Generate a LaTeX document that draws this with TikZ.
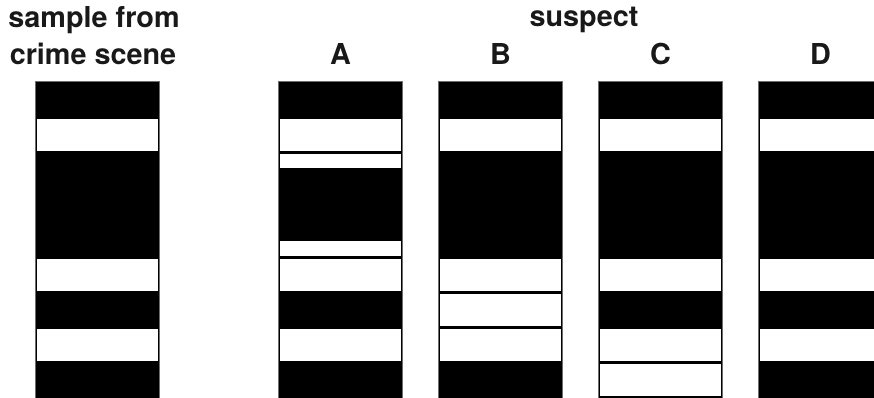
\documentclass[tikz,border=0pt]{standalone}
\usepackage{fontspec}
\setmainfont{TeX Gyre Heros}
\definecolor{gel}{RGB}{0, 0, 0}
\definecolor{band}{RGB}{255, 255, 255}
\definecolor{edge}{RGB}{110, 110, 110}
\usetikzlibrary{positioning}

\begin{document}
\begin{tikzpicture}[x=0.75pt, y=-0.75pt,
    lbl/.style={font=\fontsize{21.6}{26}\selectfont\bfseries, text=black!90, anchor=base, inner sep=0pt}]
            \clip (0,0) rectangle (874,398);
            % lanes
            \foreach \lx in {35, 278, 438, 598, 758} {
                \fill[gel] (\lx,81) rectangle (\lx+124.5,398);
                \draw[edge, line width=0.6pt] (\lx,81) rectangle (\lx+124.5,398);
            }
            % full bands: lane x / row
            \foreach \lx/\row in {35/1, 35/5, 35/7,
                                  278/1, 278/5, 278/7,
                                  438/1, 438/5, 438/6, 438/7,
                                  598/1, 598/5, 598/7, 598/8,
                                  758/1, 758/5, 758/7} {
                \fill[band] (\lx+2,84+35*\row) rectangle (\lx+122.5,116+35*\row);
            }
            % half bands of suspect A
            \fill[band] (280,154) rectangle (400.5,168.5);
            \fill[band] (280,241.5) rectangle (400.5,256);
            % headings
            \node[lbl] (sample) at (94,28) {sample from};
            \node[lbl] (crime) at (93,65) {crime scene};
            \node[lbl] (suspect) at (584,27) {suspect};
            \node[lbl] (laneA) at (340.5,65) {A};
            \node[lbl] (laneB) at (500.5,65) {B};
            \node[lbl] (laneC) at (660.5,65) {C};
            \node[lbl] (laneD) at (820.5,65) {D};
        \end{tikzpicture}
\end{document}
